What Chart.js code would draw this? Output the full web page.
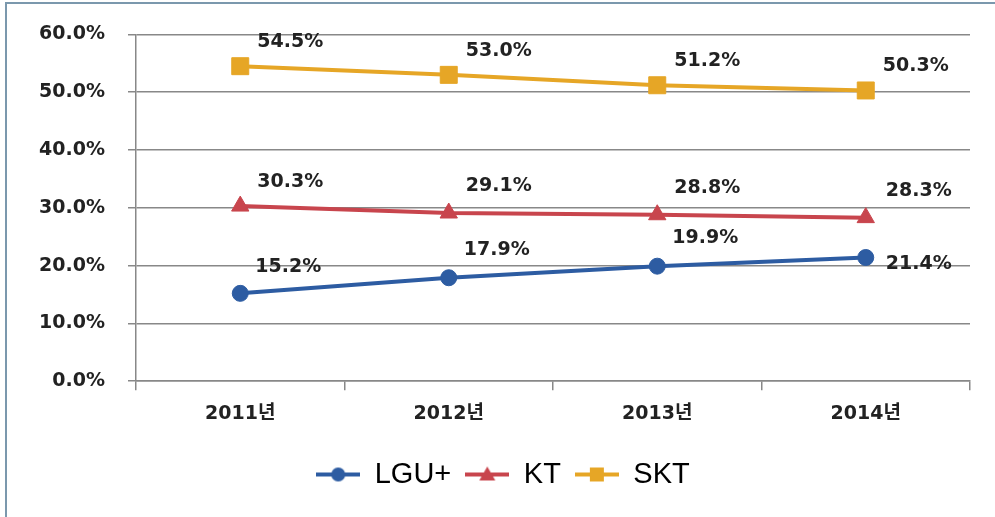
<!DOCTYPE html>
<html>
<head>
<meta charset="utf-8">
<script src="https://cdn.jsdelivr.net/npm/chart.js@4.4.1/dist/chart.umd.min.js"></script>
<style>
  html, body { margin: 0; padding: 0; background: #fff; overflow: hidden; }
  #frame { position: absolute; left: 5px; top: 2px; width: 1010px; height: 560px; border: 2px solid #7b98ad; }
  #wrap { position: absolute; left: 0; top: 0; width: 995px; height: 517px; }
</style>
</head>
<body>
<div id="frame"></div>
<div id="wrap"><canvas id="chart"></canvas></div>
<script>
'use strict';

const years = ['2011년', '2012년', '2013년', '2014년'];
const lguValues = [15.2, 17.9, 19.9, 21.4];
const ktValues = [30.3, 29.1, 28.8, 28.3];
const sktValues = [54.5, 53.0, 51.2, 50.3];

const TICK_FONT = { family: '"DejaVu Sans", "Noto Sans CJK KR", sans-serif', size: 19, weight: 'bold' };

// legend marker: short line with the point symbol in the middle
function legendIcon(color, shape) {
    const c = document.createElement('canvas');
    c.width = 44;
    c.height = 20;
    const ctx = c.getContext('2d');
    ctx.strokeStyle = color;
    ctx.fillStyle = color;
    ctx.lineWidth = 4;
    ctx.beginPath();
    ctx.moveTo(0, 10);
    ctx.lineTo(44, 10);
    ctx.stroke();
    ctx.beginPath();
    if (shape === 'circle') {
        ctx.arc(22, 10, 7, 0, Math.PI * 2);
    } else if (shape === 'triangle') {
        ctx.moveTo(22, 2);
        ctx.lineTo(30, 16);
        ctx.lineTo(14, 16);
        ctx.closePath();
    } else {
        ctx.rect(15, 3, 14, 14);
    }
    ctx.fill();
    return c;
}

const valueLabels = {
    id: 'valueLabels',
    afterDatasetsDraw(chart) {
        const ctx = chart.ctx;
        ctx.save();
        ctx.font = `bold ${TICK_FONT.size}px ${TICK_FONT.family}`;
        ctx.fillStyle = '#222';
        ctx.textAlign = 'center';
        ctx.textBaseline = 'middle';
        chart.data.datasets.forEach((ds, i) => {
            chart.getDatasetMeta(i).data.forEach((pt, j) => {
                const shift = (ds.labelShift && ds.labelShift[j]) || [50, -24];
                ctx.fillText(ds.data[j].toFixed(1) + '%', pt.x + shift[0], pt.y + shift[1]);
            });
        });
        ctx.restore();
    }
};

new Chart(document.getElementById('chart'), {
    type: 'line',
    data: {
        labels: years,
        datasets: [{
            label: 'LGU+',
            data: lguValues,
            borderColor: '#2d5ca2',
            backgroundColor: '#2d5ca2',
            pointStyle: 'circle',
            pointRadius: 8,
            legendIcon: legendIcon('#2d5ca2', 'circle'),
            labelShift: [[48, -26], [48, -28], [48, -28], [53, 7]]
        }, {
            label: 'KT',
            data: ktValues,
            borderColor: '#c8454d',
            backgroundColor: '#c8454d',
            pointStyle: 'triangle',
            pointRadius: 10,
            legendIcon: legendIcon('#c8454d', 'triangle'),
            labelShift: [null, [50, -27], [50, -27], [53, -27]]
        }, {
            label: 'SKT',
            data: sktValues,
            borderColor: '#e6a626',
            backgroundColor: '#e6a626',
            pointStyle: 'rect',
            pointRadius: 12,
            legendIcon: legendIcon('#e6a626', 'rect')
        }]
    },
    options: {
        responsive: true,
        maintainAspectRatio: false,
        animation: false,
        layout: { padding: { top: 34, right: 25, left: 36, bottom: 18 } },
        elements: {
            line: { borderWidth: 4, tension: 0 },
            point: { borderWidth: 1 }
        },
        scales: {
            x: {
                offset: true,
                afterFit: s => { s.height += 9; },
                grid: { offset: true, drawOnChartArea: false, drawTicks: true, tickLength: 9, color: '#888', lineWidth: 1.5 },
                border: { color: '#888', width: 1.5 },
                ticks: { color: '#222', font: TICK_FONT, padding: 12 }
            },
            y: {
                min: 0,
                max: 60,
                afterFit: s => { s.width = 100; },
                grid: { color: '#888', lineWidth: 1.5, tickLength: 8 },
                border: { color: '#888', width: 1.5 },
                ticks: {
                    stepSize: 10,
                    color: '#222',
                    font: TICK_FONT,
                    padding: 23,
                    callback: v => v.toFixed(1) + '%'
                }
            }
        },
        plugins: {
            tooltip: { enabled: false },
            legend: {
                position: 'bottom',
                labels: {
                    usePointStyle: true,
                    pointStyleWidth: 44,
                    padding: 14,
                    color: '#111',
                    font: { family: '"Liberation Sans", Arial, sans-serif', size: 29 },
                    generateLabels: chart => chart.data.datasets.map((ds, i) => ({
                        text: ds.label,
                        pointStyle: ds.legendIcon,
                        fillStyle: ds.borderColor,
                        strokeStyle: ds.borderColor,
                        lineWidth: 0,
                        datasetIndex: i
                    }))
                }
            }
        }
    },
    plugins: [valueLabels]
});
</script>
</body>
</html>
